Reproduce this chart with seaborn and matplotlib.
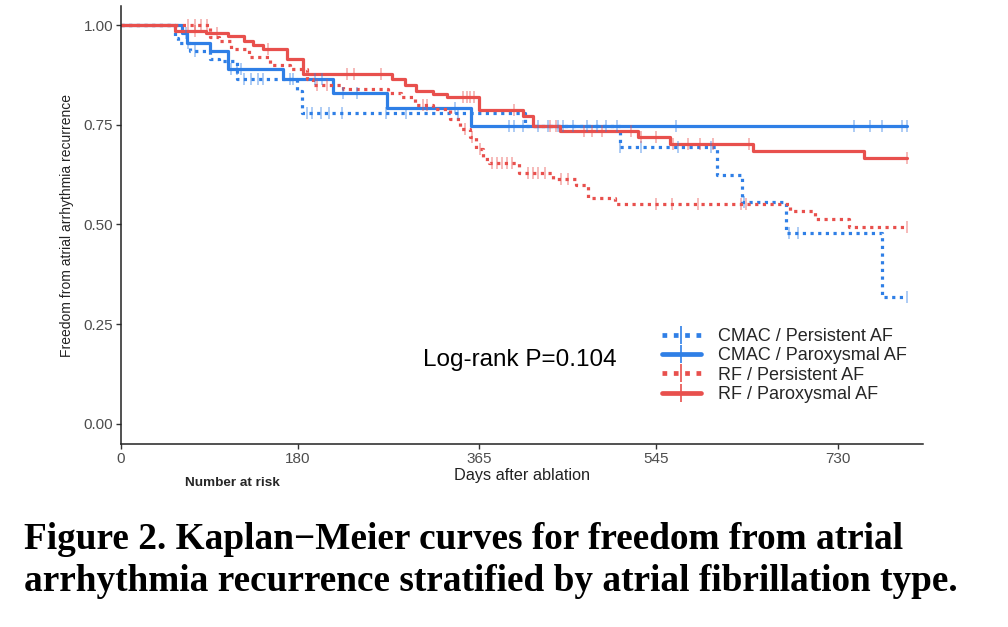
import numpy as np
import pandas as pd
import seaborn as sns
import matplotlib.pyplot as plt
from matplotlib.lines import Line2D


# Kaplan-Meier step values (days, survival)
groups = [
    "CMAC / Persistent AF",
    "CMAC / Paroxysmal AF",
    "RF / Persistent AF",
    "RF / Paroxysmal AF"
]

cmac_pers_t = [0, 55, 58, 70, 91, 100, 118, 179, 184, 412, 508, 607, 633, 677, 775, 801]
cmac_pers_s = [1.0, 0.968, 0.956, 0.935, 0.915, 0.91, 0.865, 0.835, 0.78, 0.748,
               0.693, 0.625, 0.556, 0.478, 0.318, 0.318]
cmac_pers_cens = [68, 75, 125, 132, 140, 145, 190, 195, 204, 212, 225, 270, 290, 343,
                  508, 530, 567, 601, 635, 680, 690, 801]

cmac_parox_t = [0, 62, 67, 91, 109, 165, 216, 271, 357, 801]
cmac_parox_s = [1.0, 0.98, 0.955, 0.935, 0.889, 0.865, 0.83, 0.793, 0.748, 0.748]
cmac_parox_cens = [66, 112, 118, 122, 172, 175, 198, 205, 226, 240, 340, 395, 400, 410,
                   425, 435, 445, 450, 460, 475, 485, 494, 505, 565, 747, 763, 775, 796, 801]

rf_pers_t = [0, 91, 100, 112, 130, 152, 172, 190, 196, 226, 272, 285, 300, 318, 335, 345,
             356, 362, 369, 375, 405, 440, 464, 476, 503, 681, 707, 742, 801]
rf_pers_s = [1.0, 0.97, 0.96, 0.94, 0.92, 0.90, 0.89, 0.865, 0.85, 0.84, 0.83, 0.82, 0.80,
             0.79, 0.765, 0.74, 0.72, 0.69, 0.665, 0.655, 0.63, 0.615, 0.6, 0.567, 0.552,
             0.533, 0.515, 0.493, 0.493]
rf_pers_cens = [68, 75, 82, 88, 200, 210, 308, 312, 350, 358, 366, 378, 383, 388, 393, 398,
                415, 420, 425, 432, 448, 455, 545, 561, 588, 632, 637, 801]

rf_parox_t = [0, 55, 87, 109, 125, 135, 145, 169, 185, 276, 289, 301, 318, 332, 365, 410,
              420, 447, 527, 559, 644, 757, 801]
rf_parox_s = [1.0, 0.985, 0.98, 0.973, 0.96, 0.95, 0.94, 0.915, 0.877, 0.865, 0.85, 0.835,
              0.828, 0.82, 0.787, 0.772, 0.748, 0.735, 0.72, 0.703, 0.685, 0.666, 0.666]
rf_parox_cens = [75, 98, 150, 230, 237, 265, 348, 352, 356, 360, 400, 437, 443, 472, 480,
                 490, 520, 530, 545, 562, 578, 590, 603, 640, 801]

x_ticks = [0, 180, 365, 545, 730]
y_ticks = [0.00, 0.25, 0.50, 0.75, 1.00]

blue = "#2F7FE6"
red = "#E8504D"
dotted = (0, (1, 1.4))

series = [
    (cmac_pers_t, cmac_pers_s, cmac_pers_cens, blue, dotted),
    (cmac_parox_t, cmac_parox_s, cmac_parox_cens, blue, "-"),
    (rf_pers_t, rf_pers_s, rf_pers_cens, red, dotted),
    (rf_parox_t, rf_parox_s, rf_parox_cens, red, "-"),
]


sns.set_style("white")
plt.rcParams["font.family"] = ["Liberation Sans", "DejaVu Sans"]

fig = plt.figure(figsize=(10.08, 6.27), dpi=100)
ax = fig.add_axes([0.12, 0.292, 0.7957, 0.698])

handles = []

for name, (t, s, cens, col, ls) in zip(groups, series):

    curve = pd.DataFrame({"day": t, "surv": s})

    sns.lineplot(
        data=curve,
        x="day",
        y="surv",
        drawstyle="steps-post",
        estimator=None,
        sort=False,
        color=col,
        linestyle=ls,
        linewidth=2.3,
        dash_capstyle="butt",
        ax=ax
    )

    # censor marks sit on the step curve
    idx = np.searchsorted(t, cens, side="right") - 1
    marks = pd.DataFrame({"day": cens, "surv": np.array(s)[idx]})

    sns.scatterplot(
        data=marks,
        x="day",
        y="surv",
        marker="|",
        s=80,
        linewidth=1.1,
        color=col,
        alpha=0.5,
        ax=ax,
        zorder=3
    )

    handles.append(
        Line2D([], [], color=col, linestyle=ls, linewidth=3.4,
               marker="|", markersize=13, markeredgewidth=1.2,
               dash_capstyle="butt")
    )

ax.set_xlim(0, 817)
ax.set_ylim(-0.05, 1.047)

ax.set_xticks(x_ticks)
ax.set_yticks(y_ticks)
ax.set_yticklabels([f"{v:.2f}" for v in y_ticks])

ax.tick_params(axis="both", length=3.5, width=1, color="#333333",
               labelsize=11, labelcolor="#4D4D4D", pad=2, left=True, bottom=True)

for side in ["top", "right"]:
    ax.spines[side].set_visible(False)
for side in ["left", "bottom"]:
    ax.spines[side].set_color("#222222")
    ax.spines[side].set_linewidth(1.1)

ax.set_xlabel("Days after ablation", fontsize=11.7, color="#222222", labelpad=2)
ax.set_ylabel("Freedom from atrial arrhythmia recurrence", fontsize=10,
              color="#222222", labelpad=7)

ax.text(0.376, 0.192, "Log-rank P=0.104", transform=ax.transAxes,
        fontsize=17.5, color="black", ha="left", va="center")

leg = ax.legend(
    handles,
    groups,
    loc="center left",
    bbox_to_anchor=(0.665, 0.179),
    frameon=False,
    fontsize=13,
    handlelength=2.2,
    handletextpad=0.95,
    labelspacing=0.12,
    borderaxespad=0
)

fig.text(0.2305, 0.229, "Number at risk", fontsize=9.7, fontweight="bold",
         ha="center", va="center")

fig.text(0.024, 0.139,
         "Figure 2. Kaplan\u2212Meier curves for freedom from atrial",
         family=["Liberation Serif", "DejaVu Serif"], fontweight="bold",
         fontsize=26.8, color="black", ha="left", va="center")
fig.text(0.024, 0.072,
         "arrhythmia recurrence stratified by atrial fibrillation type.",
         family=["Liberation Serif", "DejaVu Serif"], fontweight="bold",
         fontsize=26.8, color="black", ha="left", va="center")

plt.savefig("out.png", dpi=100)
